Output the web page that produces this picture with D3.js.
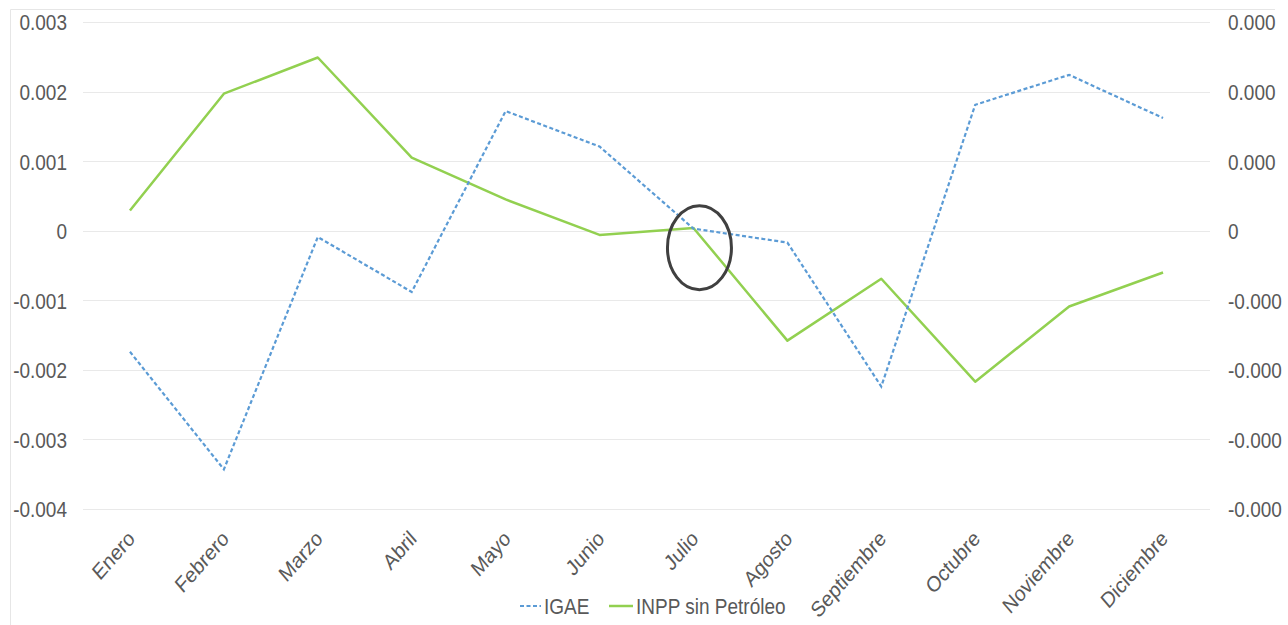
<!DOCTYPE html>
<html><head><meta charset="utf-8">
<script src="https://cdn.jsdelivr.net/npm/d3@7/dist/d3.min.js"></script>
<style>
html,body{margin:0;padding:0;background:#fff;}
svg{display:block;font-family:"Liberation Sans",Arial,sans-serif;}
</style></head>
<body>
<svg id="c" width="1288" height="625"></svg>
<script>
const months = ["Enero","Febrero","Marzo","Abril","Mayo","Junio","Julio","Agosto","Septiembre","Octubre","Noviembre","Diciembre"];
const igae = [-0.00174,-0.00343,-0.00009,-0.00088,0.00172,0.00121,0.00003,-0.00017,-0.00224,0.00181,0.00224,0.00162];
const inpp = [0.000029,0.000197,0.000249,0.000105,0.000045,-0.000006,0.000004,-0.000158,-0.000069,-0.000217,-0.000109,-0.000060];
const leftTicks = [0.003,0.002,0.001,0,-0.001,-0.002,-0.003,-0.004];
const rightTicks = [0.0003,0.0002,0.0001,0,-0.0001,-0.0002,-0.0003,-0.0004];
const seriesNames = ["IGAE","INPP sin Petróleo"];

const FS = 19;
const SY = 1.15; // vertical stretch of the source image
const svg = d3.select("#c");
const clipW = 1275;
svg.append("defs").append("clipPath").attr("id","cl").append("rect")
  .attr("x",0).attr("y",0).attr("width",clipW).attr("height",625);
const root = svg.append("g").attr("clip-path","url(#cl)");

// frame lines (cropped chart border)
root.append("line").attr("x1",10.5).attr("x2",clipW).attr("y1",9.5).attr("y2",9.5).attr("stroke","#e6e6e6");
root.append("line").attr("x1",10.5).attr("x2",10.5).attr("y1",9.5).attr("y2",625).attr("stroke","#e6e6e6");

const x = d3.scaleBand().domain(months).range([83,1210]);
const yL = d3.scaleLinear().domain([-0.004,0.003]).range([509,22]);
const yR = d3.scaleLinear().domain([-0.0004,0.0003]).range([509,22]);
const txt = "#595959";
const fmt = p => d => d===0 ? "0" : (d<0?"-":"") + Math.abs(d).toFixed(p);

// grid
root.append("g").selectAll("line").data(leftTicks).join("line")
  .attr("x1",83).attr("x2",1210)
  .attr("y1",d=>Math.round(yL(d))+0.5).attr("y2",d=>Math.round(yL(d))+0.5)
  .attr("stroke","#e9e9e9").attr("stroke-width",1.2);

function styleAxisText(sel){
  sel.attr("font-size",FS).attr("fill",txt).attr("font-family","Liberation Sans, Arial, sans-serif")
    .attr("dy",null).attr("y",0.36*FS).attr("transform",`scale(1,${SY})`);
}
// left axis
const la = svg.append("g").attr("transform","translate(67,0)")
  .call(d3.axisLeft(yL).tickValues(leftTicks).tickSize(0).tickPadding(0).tickFormat(fmt(3)));
la.select(".domain").remove();
la.selectAll("text").call(styleAxisText);

// right axis (labels appear truncated to 3 decimals in the source)
const ra = svg.append("g").attr("transform","translate(1228,0)")
  .call(d3.axisRight(yR).tickValues(rightTicks).tickSize(0).tickPadding(0).tickFormat(fmt(3)));
ra.select(".domain").remove();
ra.selectAll("text").call(styleAxisText);

// x axis labels
const xa = svg.append("g").attr("transform","translate(0,520)")
  .call(d3.axisBottom(x).tickSize(0).tickPadding(0));
xa.select(".domain").remove();
xa.selectAll("text").attr("font-size",FS).attr("fill",txt)
  .attr("font-family","Liberation Sans, Arial, sans-serif")
  .attr("text-anchor","end").attr("dy",0).attr("y",0)
  .attr("transform",`translate(6,20) scale(1,${SY}) rotate(-45)`);

const cx = d=>x(d)+x.bandwidth()/2;
const lineL = d3.line().x((d,i)=>cx(months[i])).y(d=>yL(d));
const lineR = d3.line().x((d,i)=>cx(months[i])).y(d=>yR(d));

root.append("path").datum(inpp).attr("d",lineR).attr("fill","none")
  .attr("stroke","#92d050").attr("stroke-width",2.5).attr("stroke-linejoin","round");
root.append("path").datum(igae).attr("d",lineL).attr("fill","none")
  .attr("stroke","#5b9bd5").attr("stroke-width",2.2).attr("stroke-dasharray","4,2.5");

// annotation ellipse around Julio
root.append("ellipse").attr("cx",cx("Julio")+6).attr("cy",yL(0)+17)
  .attr("rx",32).attr("ry",42).attr("fill","none").attr("stroke","#404040").attr("stroke-width",3);

// legend
const lg = svg.append("g").attr("transform","translate(0,606)");
lg.append("line").attr("x1",520).attr("x2",541).attr("y1",0).attr("y2",0)
  .attr("stroke","#5b9bd5").attr("stroke-width",2.2).attr("stroke-dasharray","4,2.5");
lg.append("text").attr("x",544).attr("y",0.36*FS).attr("transform",`scale(1,${SY})`).attr("transform-origin","0 0")
  .text(seriesNames[0]).attr("font-size",FS).attr("fill",txt);
lg.append("line").attr("x1",609).attr("x2",633).attr("y1",0).attr("y2",0)
  .attr("stroke","#92d050").attr("stroke-width",2.5);
lg.append("text").attr("x",636).attr("y",0.36*FS).attr("transform",`scale(1,${SY})`)
  .text(seriesNames[1]).attr("font-size",FS).attr("fill",txt);
</script>
</body></html>
